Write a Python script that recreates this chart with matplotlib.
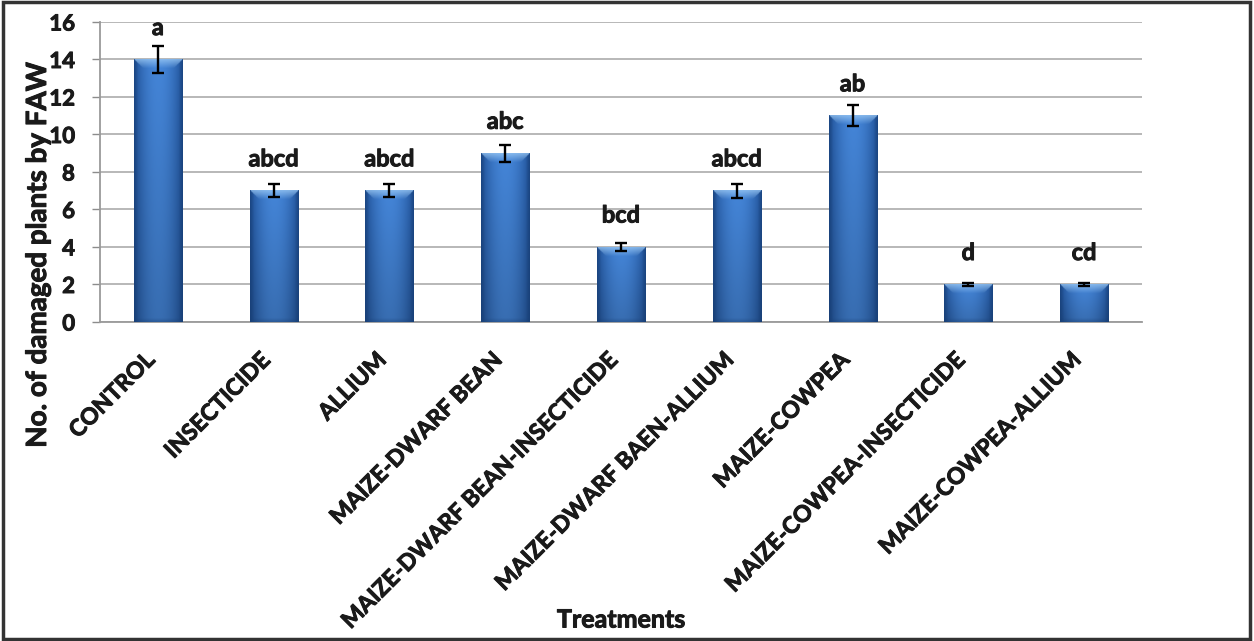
import numpy as np
import matplotlib
matplotlib.use("Agg")
import matplotlib.pyplot as plt
from matplotlib.patches import Rectangle
from matplotlib.colors import to_rgb
import matplotlib.patheffects as pe

plt.rcParams['font.family'] = ['Lato', 'DejaVu Sans']
plt.rcParams['font.weight'] = 'bold'

treatments = ["CONTROL", "INSECTICIDE", "ALLIUM", "MAIZE-DWARF BEAN",
              "MAIZE-DWARF BEAN-INSECTICIDE", "MAIZE-DWARF BAEN-ALLIUM",
              "MAIZE-COWPEA", "MAIZE-COWPEA-INSECTICIDE", "MAIZE-COWPEA-ALLIUM"]
damaged = [14, 7, 7, 9, 4, 7, 11, 2, 2]
errors = [0.7, 0.35, 0.35, 0.45, 0.22, 0.38, 0.55, 0.08, 0.08]
letters = ["a", "abcd", "abcd", "abc", "bcd", "abcd", "ab", "d", "cd"]
y_ticks = [0, 2, 4, 6, 8, 10, 12, 14, 16]

W, H = 1254, 641
fig = plt.figure(figsize=(W / 100, H / 100), dpi=100)
ax = fig.add_axes([100 / W, 1 - 322 / H, 1042 / W, 300 / H])

bar_w = 0.415
x = np.arange(len(treatments))

# px per data unit, used to shape the bevel of each bar
px_per_x = 1042 / 9
px_per_y = 300 / 16

c_center = np.array(to_rgb("#4485d8"))
c_edge = np.array(to_rgb("#1f5096"))
c_top = np.array(to_rgb("#9ccaf5"))
c_side = np.array(to_rgb("#183f75"))

thick = [pe.withStroke(linewidth=0.7, foreground="#1a1a1a")]


def bar_image(value):
    pw = bar_w * px_per_x
    ph = value * px_per_y
    nx = 64
    ny = max(int(ph * 2), 8)
    xs = np.linspace(0, pw, nx)
    ys = np.linspace(0, ph, ny)  # from top
    X, Y = np.meshgrid(xs, ys)
    t = np.abs(X - pw / 2) / (pw / 2)
    base = c_center[None, None, :] * (1 - t[..., None] ** 2.0) + c_edge[None, None, :] * (t[..., None] ** 2.0)
    # darker toward the bottom
    fy = (Y / max(ph, 1))[..., None]
    base = base * (1 - 0.18 * fy)
    bev = 9.0
    dist_side = np.minimum(X, pw - X)
    # top bevel (light, trapezoid)
    top_mask = (Y < bev) & (Y < dist_side)
    k = np.clip(1 - Y / bev, 0, 1)[..., None]
    img = np.where(top_mask[..., None], base * (1 - 0.75 * k) + c_top * 0.75 * k, base)
    # side bevels (dark strips)
    side = np.clip(1 - dist_side / 4.0, 0, 1)[..., None]
    side_mask = (dist_side < 4.0) & ~top_mask
    img = np.where(side_mask[..., None], img * (1 - 0.55 * side) + c_side * 0.55 * side, img)
    # bottom edge
    bot = np.clip(1 - (ph - Y) / 4.0, 0, 1)[..., None]
    img = img * (1 - 0.4 * bot) + c_side * 0.4 * bot
    return np.clip(img, 0, 1)


bars = ax.bar(x, damaged, width=bar_w, color="none", edgecolor="none", zorder=3)
for rect, val in zip(bars, damaged):
    x0 = rect.get_x()
    ax.imshow(bar_image(val), extent=(x0, x0 + bar_w, 0, val), origin="upper",
              aspect="auto", interpolation="bilinear", zorder=3)

ax.errorbar(x, damaged, yerr=errors, fmt="none", ecolor="black",
            elinewidth=1.7, capsize=4.5, capthick=1.7, zorder=4)

for xi, val, lab in zip(x, damaged, letters):
    ax.annotate(lab, (xi, val), xytext=(0, 23), textcoords="offset points",
                ha="center", va="center", fontsize=17, fontweight="bold",
                color="#1a1a1a", zorder=5, path_effects=thick)

ax.set_xlim(-0.5, len(treatments) - 0.5)
ax.set_ylim(0, 16)
ax.set_yticks(y_ticks)
ax.set_yticklabels([str(v) for v in y_ticks], fontsize=16, fontweight="bold",
                   color="#1a1a1a")
for lbl in ax.get_yticklabels():
    lbl.set_path_effects(thick)

# category names, slanted below each bar
ax.set_xticks(x)
ax.set_xticklabels([])
for xi, name in zip(x, treatments):
    ax.annotate(name, (xi, 0), xycoords=("data", "axes fraction"),
                xytext=(-10, -19.5), textcoords="offset points",
                rotation=45, ha="right", va="top", rotation_mode="anchor",
                fontsize=16.5, fontweight="bold", color="#1a1a1a",
                path_effects=thick, annotation_clip=False)

ax.tick_params(axis="y", length=6, width=1.0, color="#8c8c8c", pad=12)
ax.tick_params(axis="x", length=0)

ax.yaxis.grid(True, color="#b2b2b2", linewidth=1.3, zorder=0)
ax.set_axisbelow(True)
for s in ["top", "right"]:
    ax.spines[s].set_visible(False)
for s in ["left", "bottom"]:
    ax.spines[s].set_color("#9a9a9a")
    ax.spines[s].set_linewidth(1.3)

fig.text(38 / W, 1 - 255 / H, "No. of damaged plants by FAW", rotation=90,
         ha="center", va="center", fontsize=20, fontweight="bold",
         color="#1a1a1a", path_effects=thick)
fig.text(621 / W, 1 - 620 / H, "Treatments", ha="center", va="center",
         fontsize=18, fontweight="bold", color="#1a1a1a", path_effects=thick)

fig.patches.append(Rectangle((0.002, 0.003), 0.995, 0.994, transform=fig.transFigure,
                             fill=False, edgecolor="#333333", linewidth=2.5))

fig.savefig("out.png", dpi=100, facecolor="white")
